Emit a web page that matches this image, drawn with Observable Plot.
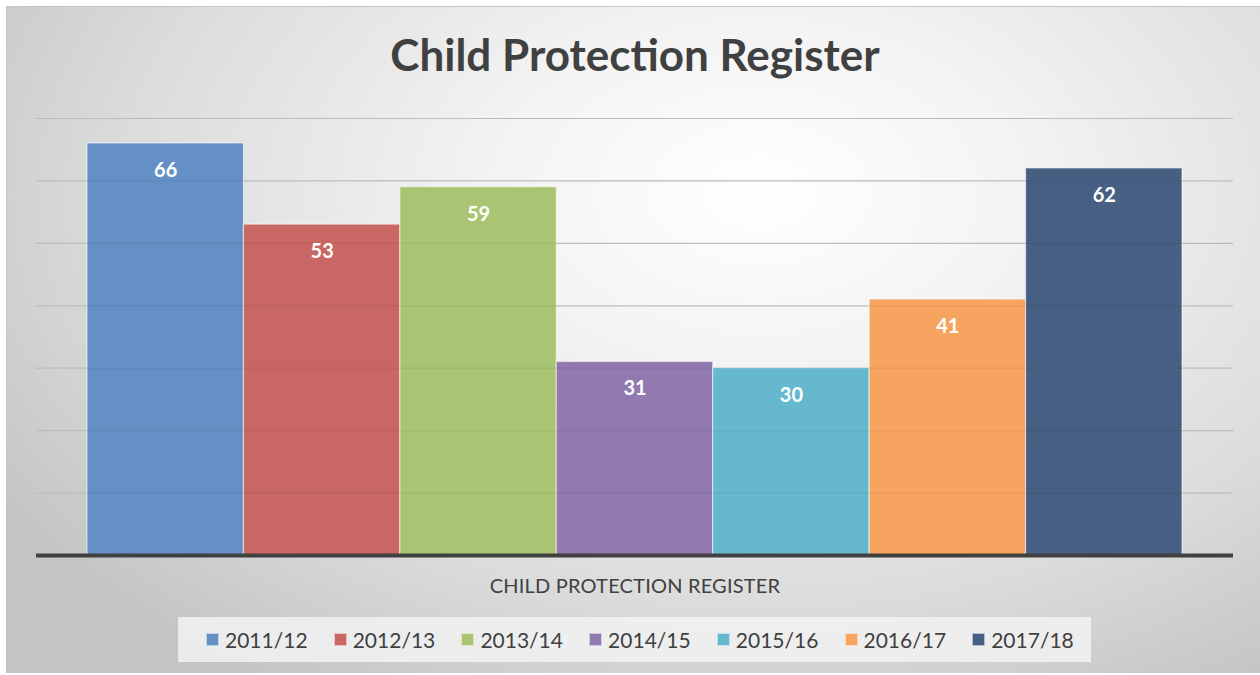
<!DOCTYPE html>
<html>
<head>
<meta charset="utf-8">
<script src="https://cdn.jsdelivr.net/npm/d3@7"></script>
<script src="https://cdn.jsdelivr.net/npm/@observablehq/plot@0.6"></script>
<style>
  html, body { margin: 0; padding: 0; background: #fff; }
  #wrap {
    position: relative; width: 1260px; height: 675px; overflow: hidden;
    font-family: Lato, "Open Sans", sans-serif;
  }
  #chart {
    position: absolute; left: 6px; top: 6px; width: 1254px; height: 666px;
    border-top: 1px solid #c4c4c4; border-left: 1px solid #c4c4c4;
    background: radial-gradient(ellipse 72% 88% at 60% 28%, #ffffff 0%, #f3f3f3 30%, #dcdcdc 70%, #c4c4c4 100%);
  }
  #title {
    position: absolute; left: 0; width: 1270px; top: 28px; text-align: center;
    font-size: 44px; font-weight: 700; color: #404040;
  }
  #plot { position: absolute; left: 0; top: 0; }
  #xlabel {
    position: absolute; left: 0; width: 1270px; top: 573px; text-align: center;
    font-size: 20px; color: #404040; letter-spacing: 0.2px;
  }
  #legend {
    position: absolute; left: 178px; top: 617px; width: 913px; height: 45px;
    background: rgba(242,242,242,0.85);
  }
  .item { position: absolute; top: 0; height: 45px; display: flex; align-items: center; font-size: 21px; color: #404040; }
  .sw { width: 13px; height: 13px; margin-right: 6px; box-sizing: border-box; border: 1px solid rgba(255,255,255,0.6); }
</style>
</head>
<body>
<div id="wrap">
  <div id="chart"></div>
  <div id="title">Child Protection Register</div>
  <div id="plot"></div>
  <div id="xlabel">CHILD PROTECTION REGISTER</div>
  <div id="legend"></div>
</div>
<script>
const years = ["2011/12", "2012/13", "2013/14", "2014/15", "2015/16", "2016/17", "2017/18"];
const values = [66, 53, 59, 31, 30, 41, 62];
const colors = ["#6490c5", "#c96765", "#a9c472", "#9279b0", "#66b8cf", "#f6a45f", "#465f82"];
const yTicks = [0, 10, 20, 30, 40, 50, 60, 70];

const data = years.map((y, i) => ({year: y, value: values[i]}));

const plot = Plot.plot({
  width: 1260,
  height: 600,
  marginTop: 118,
  marginBottom: 45,
  marginLeft: 36,
  marginRight: 27,
  x: {domain: years, paddingInner: 0, paddingOuter: 0.326, round: false, axis: null},
  y: {domain: [0, 70], axis: null},
  color: {domain: years, range: colors},
  style: {background: "transparent", fontFamily: "Lato, sans-serif"},
  marks: [
    Plot.ruleY(yTicks.slice(1), {stroke: "#c8c8c8", strokeWidth: 1.2}),
    Plot.barY(data, {x: "year", y: "value", fill: "year", stroke: "rgba(255,255,255,0.55)", strokeWidth: 1.2}),
    Plot.ruleY(yTicks.slice(1), {stroke: "#000", strokeOpacity: 0.06, strokeWidth: 1.2}),
    Plot.ruleY([0], {stroke: "#404040", strokeWidth: 4}),
    Plot.text(data, {x: "year", y: "value", text: d => String(d.value), dy: 27, fill: "#fff", fontSize: 20, fontWeight: 700})
  ]
});
document.getElementById("plot").appendChild(plot);

const legend = document.getElementById("legend");
years.forEach((y, i) => {
  const it = document.createElement("div");
  it.className = "item";
  it.style.left = (28 + i * 127.7) + "px";
  const sw = document.createElement("div");
  sw.className = "sw";
  sw.style.background = colors[i];
  const t = document.createElement("span");
  t.textContent = y;
  it.appendChild(sw); it.appendChild(t);
  legend.appendChild(it);
});
</script>
</body>
</html>
